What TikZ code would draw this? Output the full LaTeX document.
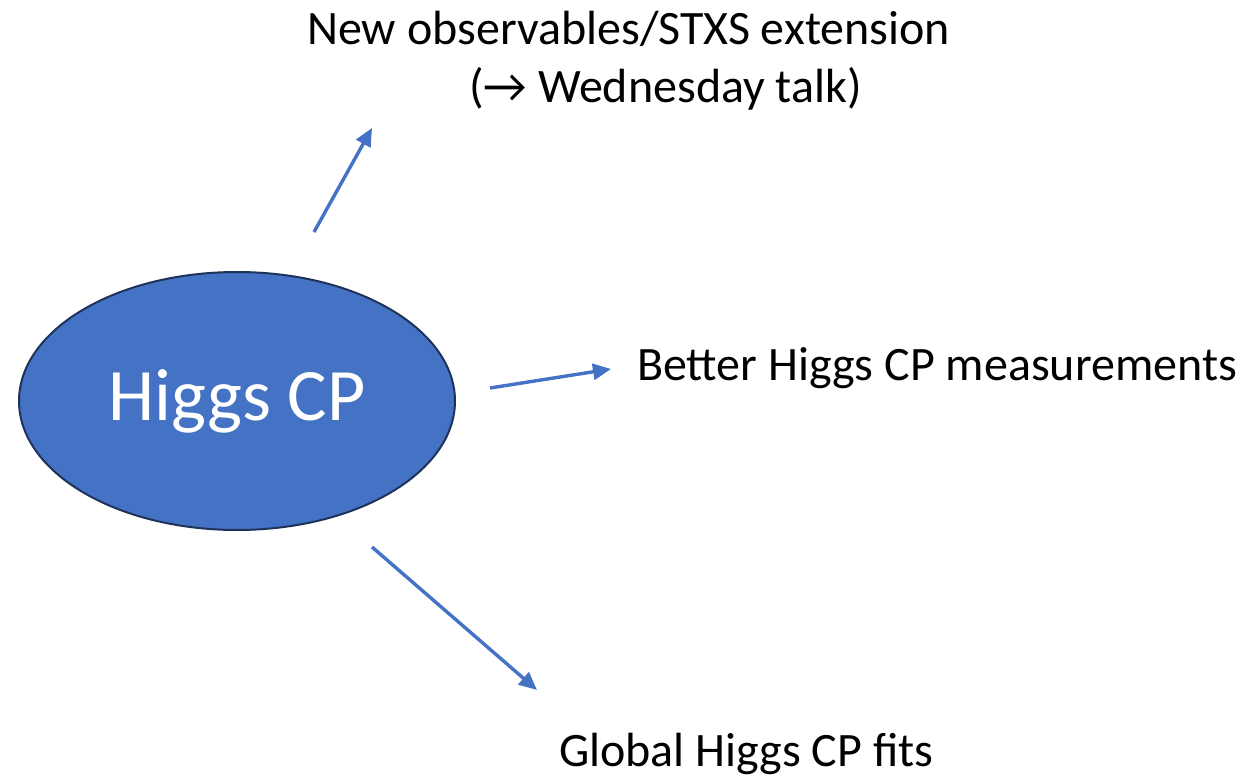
\documentclass[tikz,border=0pt]{standalone}
\usepackage{fontspec}
\setmainfont{Carlito}
\usetikzlibrary{arrows.meta,shapes.geometric}
\definecolor{accent}{HTML}{4472C4}
\definecolor{rim}{HTML}{1F3259}
\tikzset{
  label text/.style={font=\fontsize{48}{58}\selectfont, text=black, inner sep=0pt},
  flow/.style={draw=accent, line width=3.4pt, -{Triangle[length=18pt,width=16pt]}},
}
\begin{document}
\begin{tikzpicture}[x=1pt,y=-1pt]
  \useasboundingbox (0,0) rectangle (1256,778);
  % central topic
  \node[ellipse, fill=accent, draw=rim, line width=2pt,
        minimum width=436pt, minimum height=258pt, inner sep=0pt,
        text=white, font=\fontsize{74}{90}\selectfont] (hcp) at (237,401) {\raisebox{-3pt}{Higgs CP}};
  % outcome labels
  \node[label text, anchor=base west] (obs1) at (307,45) {New observables/STXS extension};
  \node[label text, anchor=base west] (obs2) at (469,103) {(\char"2192\ Wednesday talk)};
  \node[label text, anchor=base west] (meas) at (637,380) {Better Higgs CP measurements};
  \node[label text, anchor=base west] (fits) at (559,766) {Global Higgs CP fits};
  % arrow ends
  \coordinate (s1) at (314,232); \coordinate (e1) at (372,128);
  \coordinate (s2) at (490,388); \coordinate (e2) at (611,369);
  \coordinate (s3) at (372,547); \coordinate (e3) at (537,690);
  \draw[flow] (s1) -- (e1);
  \draw[flow] (s2) -- (e2);
  \draw[flow] (s3) -- (e3);
\end{tikzpicture}
\end{document}
